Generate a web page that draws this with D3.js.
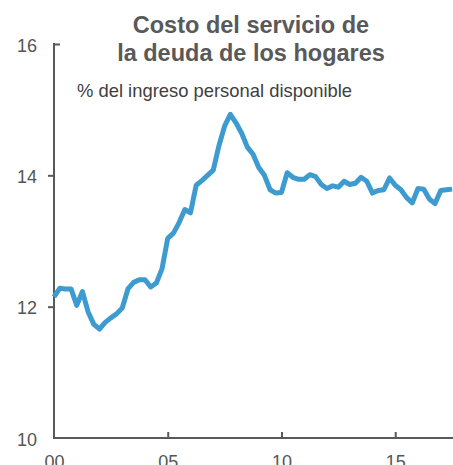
<!DOCTYPE html>
<html>
<head>
<meta charset="utf-8">
<script src="https://cdn.jsdelivr.net/npm/d3@7"></script>
<style>
  html, body { margin: 0; padding: 0; background: #fff; }
  svg { display: block; font-family: "Liberation Sans", Arial, sans-serif; }
</style>
</head>
<body>
<script>
// ---- data ----
const titleLines = ["Costo del servicio de", "la deuda de los hogares"];
const subtitle = "% del ingreso personal disponible";
const startYear = 2000;            // first quarter: 2000 Q1
const quarterStep = 0.25;
const debtService = [
  12.15, 12.28, 12.27, 12.27, 12.02, 12.23, 11.92, 11.73,
  11.66, 11.76, 11.83, 11.89, 11.98, 12.27, 12.37, 12.41,
  12.41, 12.30, 12.36, 12.58, 13.04, 13.12, 13.28, 13.48,
  13.43, 13.85, 13.92, 14.00, 14.08, 14.45, 14.75, 14.93,
  14.80, 14.64, 14.43, 14.32, 14.12, 14.00, 13.78, 13.73,
  13.74, 14.04, 13.97, 13.94, 13.94, 14.01, 13.98, 13.86,
  13.80, 13.84, 13.82, 13.91, 13.86, 13.88, 13.97, 13.91,
  13.73, 13.77, 13.78, 13.96, 13.85, 13.78, 13.66, 13.58,
  13.80, 13.79, 13.64, 13.57, 13.77, 13.78, 13.79
];
const yTicks = [10, 12, 14, 16];
const xTicks = [2000, 2005, 2010, 2015];
const xTickLabels = ["00", "05", "10", "15"];

// ---- layout ----
const W = 453, H = 465;
const svg = d3.select("body").append("svg").attr("width", W).attr("height", H);

const x = d3.scaleLinear().domain([2000, 2017.54]).range([54, 453]);
const y = d3.scaleLinear().domain([10, 16]).range([438, 44]);

const axisColor = "#595959";

// title
svg.append("g").selectAll("text").data(titleLines).join("text")
  .attr("x", 251).attr("y", (d, i) => 33 + i * 28)
  .attr("text-anchor", "middle")
  .attr("font-size", 23.5).attr("font-weight", "bold")
  .attr("fill", "#595959")
  .text(d => d);

svg.append("text")
  .attr("x", 77).attr("y", 97)
  .attr("font-size", 18.4).attr("fill", "#404040")
  .text(subtitle);

// y axis
const yAxis = svg.append("g").attr("transform", "translate(54,0)")
  .call(d3.axisLeft(y).tickValues(yTicks).tickSize(6).tickPadding(11).tickFormat(d3.format("d")));
yAxis.select(".domain").remove();
yAxis.selectAll(".tick line").attr("stroke", axisColor).attr("stroke-width", 2)
  .filter(d => d === 16).attr("x2", 6);
yAxis.selectAll(".tick line").filter(d => d === 10).remove();
yAxis.selectAll(".tick text").attr("font-size", 18).attr("fill", "#555")
  .attr("font-family", "Liberation Sans, Arial, sans-serif")
  .attr("dy", "0.4em");

svg.append("line").attr("x1", 54).attr("x2", 54).attr("y1", y(16) - 1).attr("y2", y(10) + 1)
  .attr("stroke", axisColor).attr("stroke-width", 2);

// x axis
const xAxis = svg.append("g").attr("transform", "translate(0,438)")
  .call(d3.axisBottom(x).tickValues(xTicks).tickSize(0).tickPadding(17)
    .tickFormat((d, i) => xTickLabels[i]));
xAxis.select(".domain").remove();
xAxis.selectAll(".tick text").attr("font-size", 18).attr("fill", "#555")
  .attr("font-family", "Liberation Sans, Arial, sans-serif");
xAxis.selectAll(".tick").filter(d => d !== 2000).append("line")
  .attr("y1", 0).attr("y2", -6).attr("stroke", axisColor).attr("stroke-width", 2);

svg.append("line").attr("x1", 53).attr("x2", W).attr("y1", 438).attr("y2", 438)
  .attr("stroke", axisColor).attr("stroke-width", 2);

// line
const line = d3.line()
  .x((d, i) => x(startYear + i * quarterStep))
  .y(d => y(d))
  .curve(d3.curveLinear);

svg.append("path").datum(debtService)
  .attr("d", line)
  .attr("fill", "none")
  .attr("stroke", "#3d9bd0")
  .attr("stroke-width", 5)
  .attr("stroke-linejoin", "round")
  .attr("stroke-linecap", "butt");
</script>
</body>
</html>
